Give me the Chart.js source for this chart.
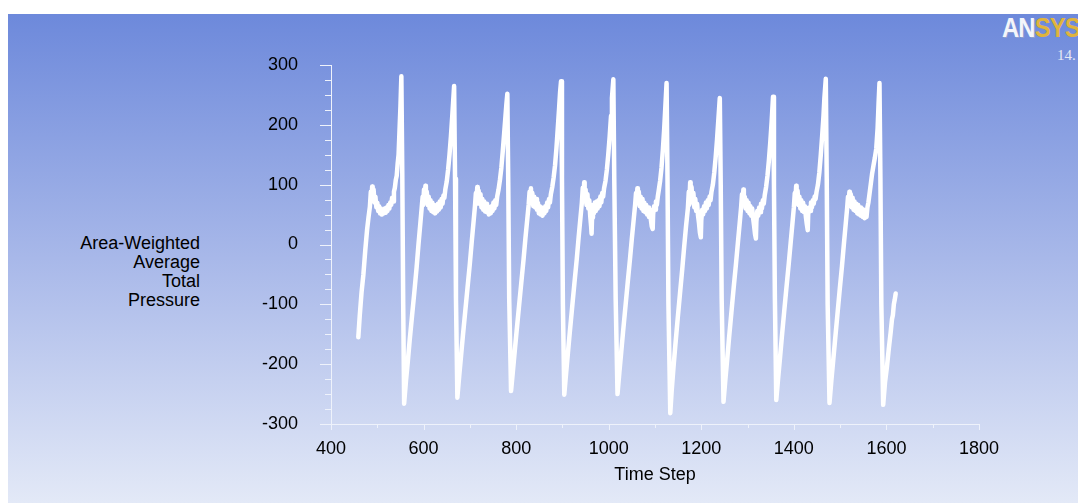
<!DOCTYPE html>
<html>
<head>
<meta charset="utf-8">
<script src="https://cdn.jsdelivr.net/npm/chart.js@4.4.1/dist/chart.umd.min.js"></script>
<style>
  html, body { margin: 0; padding: 0; background: #fff; }
  body { width: 1078px; height: 503px; position: relative; overflow: hidden; font-family: "Liberation Sans", Arial, sans-serif; }
  #panel { position: absolute; left: 8px; top: 14px; right: 0; bottom: 0;
    background: linear-gradient(to bottom, #6d89db 0%, #a8b8e9 50%, #e3e9f7 100%); }
  #chart { position: absolute; left: 0; top: 0; }
  #ytitle { position: absolute; right: 878px; top: 234px; text-align: right; font-size: 18px; line-height: 19px; color: #000; }
  #logo { position: absolute; left: 1002px; top: 12px; font: bold 28px "Liberation Sans", Arial, sans-serif; white-space: nowrap; letter-spacing: -1px; transform: scaleX(0.85); transform-origin: left top; }
  #logo .an { color: #f3f5fb; text-shadow: 1px 1px 0 #8e9fcd; }
  #logo .sys { color: #e0b43c; }
  #ver { position: absolute; left: 1057px; top: 47px; font: 15px "Liberation Serif", serif; color: #e6e9f4; }
</style>
</head>
<body>
<div id="panel"></div>
<div id="ytitle">Area-Weighted<br>Average<br>Total<br>Pressure</div>
<div id="logo"><span class="an">AN</span><span class="sys">SYS</span></div>
<div id="ver">14.</div>
<canvas id="chart" width="1078" height="503"></canvas>
<script>
// Axis setup
const X_TITLE = 'Time Step';
const X_MIN = 400, X_MAX = 1800, X_STEP = 200, X_MINOR = 100;
const Y_MIN = -300, Y_MAX = 300, Y_STEP = 100, Y_MINOR = 25;
const AXIS_COLOR = '#eef2fb';
const FONT = '"Liberation Sans", Arial, sans-serif';

// Time steps (one line per cycle)
const timeStep = [
  459,462,466,470,474,478,481,484, 486,487,489,490,492,494,496,498, 500,502,504,506,508,510,512,514, 516,518,520,522,524,526,528,530, 532,534,536,538,540,542,544,546, 548,550,552,554,556,
  558,562,566,570,575,580,585,589, 593,596,598,599,601,602,604,605, 607,609,611,613,615,617,619,621, 623,625,627,629,631,633,635,637, 639,641,643,645,647,650,653,656, 659,662,664,666,668,670,
  673,677,681,685,690,695,700,704, 708,711,713,714,716,717,719,721, 723,725,727,729,731,733,735,737, 739,741,743,745,747,749,751,753, 755,757,759,762,765,768,771,774, 777,779,781,783,785,
  789,793,797,801,806,811,816,820, 824,827,829,830,832,833,835,837, 839,841,843,845,847,849,851,853, 855,857,859,861,863,865,867,869, 871,873,875,878,881,884,887,890, 893,895,897,899,901,
  904,908,912,916,921,926,931,935, 939,942,944,945,947,948,950,952, 954,956,958,960,962,963,964,966, 968,970,972,974,976,978,980,982, 984,986,988,990,993,996,999,1002, 1005,1007,1010,1012,1015,
  1019,1023,1027,1031,1036,1041,1046,1050, 1054,1057,1059,1060,1062,1063,1065,1067, 1069,1071,1073,1075,1077,1079,1081,1083, 1085,1087,1089,1091,1093,1095,1096,1098, 1100,1102,1104,1106,1108,1111,1114,1117, 1120,1122,1125,1127,1129,
  1133,1136,1140,1144,1149,1154,1159,1163, 1167,1171,1173,1174,1176,1177,1179,1181, 1183,1185,1187,1189,1191,1193,1195,1197, 1199,1200,1202,1204,1206,1208,1210,1212, 1214,1216,1218,1220,1222,1225,1228,1231, 1234,1237,1240,1242,1244,
  1248,1252,1256,1260,1265,1270,1275,1279, 1283,1286,1288,1289,1291,1292,1294,1296, 1298,1300,1302,1304,1306,1308,1310,1312, 1314,1316,1318,1319,1321,1323,1325,1327, 1329,1331,1333,1335,1337,1340,1343,1346, 1349,1352,1355,1357,1359,
  1362,1366,1370,1374,1379,1384,1389,1393, 1397,1400,1402,1403,1405,1406,1408,1410, 1412,1414,1416,1418,1420,1422,1424,1426, 1428,1430,1431,1433,1435,1437,1439,1441, 1443,1445,1447,1449,1452,1455,1458,1461, 1464,1466,1469,1471,1473,
  1477,1481,1485,1489,1494,1499,1504,1508, 1512,1515,1517,1518,1520,1521,1523,1525, 1527,1529,1531,1533,1535,1537,1539,1541, 1543,1545,1547,1549,1551,1553,1555,1557, 1559,1561,1563,1566,1569,1572,1575,1578, 1581,1583,1585,1587,1589,
  1593,1597,1601,1605,1609,1612,1614,1616,1618,1620
];

// Area-weighted average total pressure at those steps
const pressure = [
  -155,-120,-80,-50,-10,25,45,63, 88,72,97,78,92,70,80,62, 70,56,64,52,60,50,58,52, 60,53,62,56,66,60,70,66, 78,72,88,95,108,115,135,150, 190,230,281,120,-100,
  -266,-228,-195,-160,-120,-80,-38,0, 35,62,80,66,92,72,98,74, 88,66,80,60,74,56,70,54, 66,52,64,55,68,58,72,62, 76,68,82,78,92,105,125,150, 180,215,240,265,110,-90,
  -256,-220,-186,-152,-112,-72,-32,4, 38,64,86,68,96,74,90,68, 84,62,76,58,72,55,68,54, 64,50,62,52,64,56,70,60, 74,66,80,92,108,128,155,185, 215,235,252,100,-90,
  -245,-212,-178,-145,-105,-65,-25,10, 42,66,88,70,94,72,86,64, 80,62,76,58,70,52,64,50, 62,48,60,52,64,56,70,62, 76,70,84,96,112,132,160,195, 230,255,273,110,-100,
  -251,-215,-180,-146,-105,-64,-24,12, 45,70,95,72,104,78,92,66, 84,60,74,48,30,18,45,66, 52,70,56,72,60,74,64,80, 70,86,80,94,106,125,150,180, 215,245,276,110,-90,
  -250,-214,-180,-146,-105,-64,-24,10, 42,66,86,70,94,72,88,64, 80,60,76,56,70,54,66,50, 62,46,58,42,30,26,50,64, 58,72,66,80,90,106,128,158, 195,225,270,110,-100,
  -282,-245,-205,-168,-124,-82,-40,-4, 30,60,88,66,104,76,96,70, 86,62,76,56,68,48,36,20, 12,40,58,50,64,56,70,60, 74,66,80,74,88,100,120,145, 175,210,245,100,-90,
  -263,-226,-192,-156,-114,-72,-32,2, 36,62,84,66,92,70,80,60, 74,56,70,52,64,48,60,44, 32,18,10,38,56,48,62,54, 68,60,74,68,82,96,115,140, 170,205,247,100,-90,
  -260,-224,-190,-155,-113,-72,-32,2, 36,62,86,68,98,72,90,66, 80,60,74,56,70,54,64,46, 34,24,50,62,56,70,62,74, 68,80,76,88,100,120,148,180, 215,245,277,110,-100,
  -265,-228,-194,-160,-118,-76,-36,0, 34,60,80,64,88,68,84,62, 78,58,72,56,68,52,66,50, 62,48,60,46,58,44,56,46, 62,70,82,100,118,132,145,160, 195,235,270,110,-100,
  -268,-230,-205,-175,-148,-125,-118,-100,-92,-82
];

// minor/major tick marks drawn from the scales
const axisTicks = {
  id: 'axisTicks',
  afterDraw(chart) {
    const { ctx, scales: { x, y } } = chart;
    ctx.save();
    ctx.strokeStyle = AXIS_COLOR;
    ctx.lineWidth = 1;
    for (let v = Y_MIN; v <= Y_MAX; v += Y_MINOR) {
      const py = Math.round(y.getPixelForValue(v)) + 0.5;
      const len = v % Y_STEP === 0 ? 11 : 6;
      ctx.beginPath(); ctx.moveTo(x.left - len, py); ctx.lineTo(x.left, py); ctx.stroke();
    }
    for (let v = X_MIN; v <= X_MAX; v += X_MINOR) {
      const px = Math.round(x.getPixelForValue(v)) + 0.5;
      const len = v % X_STEP === 0 ? 6 : 4;
      ctx.beginPath(); ctx.moveTo(px, y.bottom); ctx.lineTo(px, y.bottom + len); ctx.stroke();
    }
    ctx.restore();
  }
};

const chart = new Chart(document.getElementById('chart'), {
  type: 'line',
  data: {
    datasets: [{
      data: timeStep.map((t, i) => ({ x: t, y: pressure[i] })),
      borderColor: '#ffffff',
      borderWidth: 4.5,
      borderJoinStyle: 'round',
      borderCapStyle: 'round',
      pointRadius: 0,
      tension: 0,
      fill: false
    }]
  },
  options: {
    responsive: false,
    animation: false,
    layout: { padding: { top: 65, right: 99, left: 0, bottom: 0 } },
    plugins: { legend: { display: false }, tooltip: { enabled: false } },
    scales: {
      x: {
        type: 'linear', min: X_MIN, max: X_MAX,
        afterFit: s => { s.height = 79; },
        grid: { display: false },
        border: { display: true, color: AXIS_COLOR, width: 1 },
        ticks: { stepSize: X_STEP, color: '#000', font: { size: 18, family: FONT }, padding: 6, maxRotation: 0, autoSkip: false,
          callback: v => String(v) },
        title: { display: true, text: X_TITLE, color: '#000', font: { size: 18, family: FONT }, padding: { top: 0, bottom: 17 } }
      },
      y: {
        min: Y_MIN, max: Y_MAX,
        afterFit: s => { s.width = 331; },
        grid: { display: false },
        border: { display: true, color: AXIS_COLOR, width: 1 },
        ticks: { stepSize: Y_STEP, color: '#000', font: { size: 18, family: FONT }, padding: 25, autoSkip: false,
          callback: v => String(v) }
      }
    }
  },
  plugins: [axisTicks]
});
</script>
</body>
</html>
